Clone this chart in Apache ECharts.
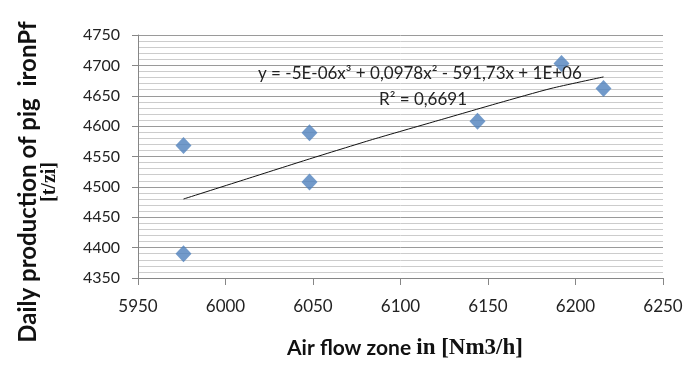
<!DOCTYPE html>
<html>
<head>
<meta charset="utf-8">
<script src="https://cdn.jsdelivr.net/npm/echarts@6/dist/echarts.min.js"></script>
<style>
html,body{margin:0;padding:0;background:#fff;}
#chart{width:699px;height:365px;}
</style>
</head>
<body>
<div id="chart"></div>
<script>
// Data
const airFlow = [5976, 5976, 6048, 6048, 6144, 6192, 6216];
const production = [4568, 4390, 4589, 4508, 4608, 4703, 4662];
const trendX = [5976, 6012, 6048, 6084, 6120, 6156, 6186, 6216];
const trendY = [4480, 4513, 4546, 4578, 4608, 4638, 4662, 4681];
const xTicks = { min: 5950, max: 6250, step: 50 };
const yTicks = { min: 4350, max: 4750, step: 50 };
const equationText = 'y = -5E-06x³ + 0,0978x² - 591,73x + 1E+06';
const r2Text = 'R² = 0,6691';
const yTitle1 = 'Daily production of pig  ironPf';
const yTitle2 = '[t/zi]';
const xTitle1 = 'Air flow zone ';
const xTitle2 = 'in [Nm3/h]';

const chart = echarts.init(document.getElementById('chart'));
const sans = 'Lato';
const serif = 'Liberation Serif';

chart.setOption({
  animation: false,
  backgroundColor: '#fff',
  grid: { left: 138, right: 36, top: 35, bottom: 87 },
  xAxis: {
    type: 'value',
    min: xTicks.min, max: xTicks.max, interval: xTicks.step,
    axisLine: { show: true, lineStyle: { color: '#868686', width: 1 } },
    axisTick: { show: true, inside: false, length: 7, lineStyle: { color: '#868686' } },
    axisLabel: { margin: 20, color: '#222', fontFamily: sans, fontSize: 17, formatter: v => String(v) },
    splitLine: { show: false }
  },
  yAxis: {
    type: 'value',
    min: yTicks.min, max: yTicks.max, interval: yTicks.step,
    axisLine: { show: true, lineStyle: { color: '#868686', width: 1 } },
    axisTick: { show: true, inside: false, length: 6, lineStyle: { color: '#868686' } },
    axisLabel: { margin: 18, color: '#222', fontFamily: sans, fontSize: 16, formatter: v => String(v) },
    splitLine: { show: true, lineStyle: { color: '#9a9a9a', width: 1 } },
    minorTick: { show: false, splitNumber: 5 },
    minorSplitLine: { show: true, lineStyle: { color: '#cccccc', width: 1 } }
  },
  title: [
    { text: equationText, left: 253, top: 60,
      textStyle: { fontFamily: sans, fontSize: 17, fontWeight: 'normal', color: '#222' } },
    { text: r2Text, left: 374, top: 86,
      textStyle: { fontFamily: sans, fontSize: 17, fontWeight: 'normal', color: '#222' } }
  ],
  graphic: [
    {
      type: 'text',
      x: 38, y: 182,
      rotation: Math.PI / 2,
      style: {
        text: '{a|' + yTitle1 + '}\n{b|' + yTitle2 + '}',
        align: 'center',
        verticalAlign: 'middle',
        rich: {
          a: { fontFamily: sans, fontWeight: 'bold', fontSize: 24, fill: '#111', lineHeight: 24, align: 'center' },
          b: { fontFamily: serif, fontWeight: 'bold', fontSize: 20, fill: '#111', lineHeight: 20, align: 'center' }
        }
      }
    },
    {
      type: 'text',
      x: 405, y: 348,
      style: {
        text: '{a|' + xTitle1 + '}{b|' + xTitle2 + '}',
        align: 'center',
        verticalAlign: 'middle',
        rich: {
          a: { fontFamily: sans, fontWeight: 'bold', fontSize: 21, fill: '#111' },
          b: { fontFamily: serif, fontWeight: 'bold', fontSize: 23, fill: '#111' }
        }
      }
    }
  ],
  series: [
    {
      type: 'line',
      data: trendX.map((x, i) => [x, trendY[i]]),
      smooth: 0.2,
      showSymbol: false,
      symbol: 'none',
      lineStyle: { color: '#111', width: 1 },
      z: 2
    },
    {
      type: 'scatter',
      data: airFlow.map((x, i) => [x, production[i]]),
      symbol: 'diamond',
      symbolSize: [16, 17],
      itemStyle: { color: '#4F81BD' },
      z: 3
    }
  ]
});
</script>
</body>
</html>
